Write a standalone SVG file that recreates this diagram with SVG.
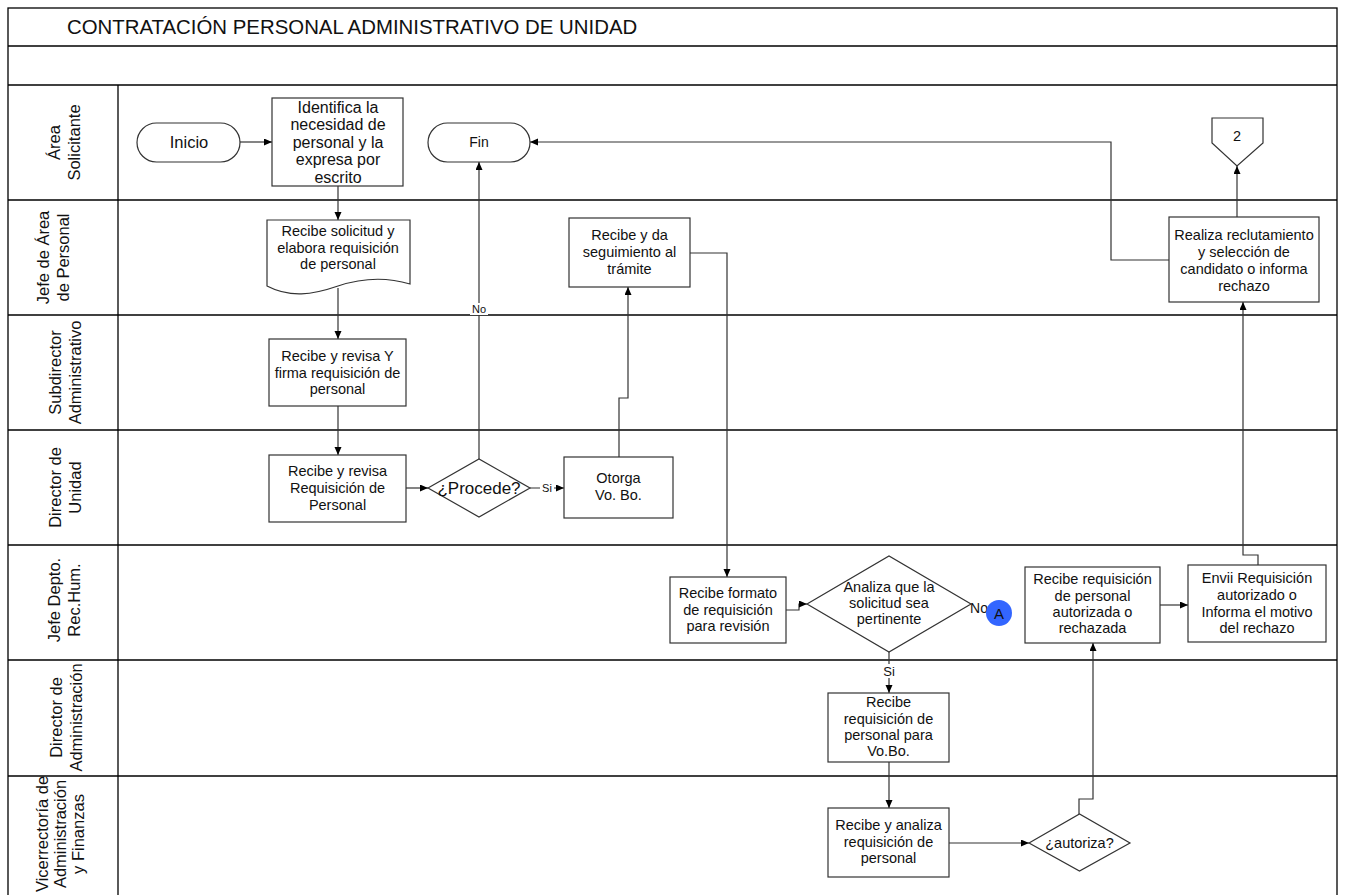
<svg xmlns="http://www.w3.org/2000/svg" width="1345" height="895" viewBox="0 0 1345 895">
<defs>
<style>
.frame{fill:none;stroke:#000;stroke-width:1.3}
.box{fill:#fff;stroke:#333;stroke-width:1.2}
.t{font-family:"Liberation Sans",Arial,sans-serif;font-size:14.5px;fill:#111;text-anchor:middle}
.lane{font-family:"Liberation Sans",Arial,sans-serif;font-size:16.5px;fill:#111;text-anchor:middle}
.lbl{font-family:"Liberation Sans",Arial,sans-serif;font-size:11px;fill:#111;text-anchor:middle}
.c{fill:none;stroke:#333;stroke-width:1.2}
.a{marker-end:url(#arr)}
</style>
<marker id="arr" markerWidth="9" markerHeight="8" refX="8" refY="3.5" orient="auto" markerUnits="userSpaceOnUse">
<path d="M0,0 L8,3.5 L0,7 z" fill="#000"/>
</marker>
</defs>
<rect width="1345" height="895" fill="#fff"/>

<g id="frame">
<rect class="frame" x="8" y="8" width="1329" height="890"/>
<line class="frame" x1="8" y1="46" x2="1337" y2="46"/>
<line class="frame" x1="8" y1="85" x2="1337" y2="85"/>
<line class="frame" x1="118" y1="85" x2="118" y2="895"/>
<line class="frame" x1="8" y1="200" x2="1337" y2="200"/>
<line class="frame" x1="8" y1="315" x2="1337" y2="315"/>
<line class="frame" x1="8" y1="430" x2="1337" y2="430"/>
<line class="frame" x1="8" y1="545" x2="1337" y2="545"/>
<line class="frame" x1="8" y1="660" x2="1337" y2="660"/>
<line class="frame" x1="8" y1="776" x2="1337" y2="776"/>
<text x="67" y="34" style="font-family:'Liberation Sans',Arial,sans-serif;font-size:20.4px;fill:#111">CONTRATACIÓN PERSONAL ADMINISTRATIVO DE UNIDAD</text>
</g>

<g id="lanes">
<text class="lane" transform="translate(64,142.5) rotate(-90)"><tspan x="0" y="-4">Área</tspan><tspan x="0" y="16">Solicitante</tspan></text>
<text class="lane" transform="translate(52.5,257.5) rotate(-90)"><tspan x="0" y="-4">Jefe de Área</tspan><tspan x="0" y="16">de Personal</tspan></text>
<text class="lane" transform="translate(65,372.5) rotate(-90)"><tspan x="0" y="-4">Subdirector</tspan><tspan x="0" y="16">Administrativo</tspan></text>
<text class="lane" transform="translate(65,487.5) rotate(-90)"><tspan x="0" y="-4">Director de</tspan><tspan x="0" y="16">Unidad</tspan></text>
<text class="lane" transform="translate(64,600) rotate(-90)"><tspan x="0" y="-4">Jefe Depto.</tspan><tspan x="0" y="16">Rec.Hum.</tspan></text>
<text class="lane" transform="translate(66,717.5) rotate(-90)"><tspan x="0" y="-4">Director de</tspan><tspan x="0" y="16">Administración</tspan></text>
<text class="lane" transform="translate(60,834) rotate(-90)"><tspan x="0" y="-12.4">Vicerrectoría de</tspan><tspan x="0" y="5.6">Administración</tspan><tspan x="0" y="23.6">y Finanzas</tspan></text>
</g>

<g id="connectors">
<path class="c a" d="M240,142 H272"/>
<path class="c a" d="M338,186 V220"/>
<path class="c a" d="M338,288 V339"/>
<path class="c a" d="M338,406 V455"/>
<path class="c a" d="M406,488 H428"/>
<path class="c a" d="M479,459 V162"/>
<path class="c a" d="M530,488 H564"/>
<path class="c a" d="M619,457 V398 H628 V287"/>
<path class="c a" d="M690,253 H727 V577"/>
<path class="c a" d="M786,610 H799 V604 H807"/>
<path class="c a" d="M889,652 V693"/>
<path class="c a" d="M889,762 V808"/>
<path class="c a" d="M949,843 H1029"/>
<path class="c a" d="M1079,814 V799 H1093 V643"/>
<path class="c a" d="M1160,605 H1188"/>
<path class="c a" d="M1258,565 V555 H1243 V302"/>
<path class="c a" d="M1237,217 V166"/>
<path class="c a" d="M1169,260 H1111 V142 H530"/>
<rect x="470" y="303" width="18" height="12" fill="#fff"/>
<text class="lbl" x="479" y="313">No</text>
<rect x="540" y="482" width="14" height="12" fill="#fff"/>
<text class="lbl" x="547" y="492">Si</text>
<rect x="882" y="664" width="15" height="14" fill="#fff"/>
<text class="t" x="889" y="676" style="font-size:13px">Si</text>
<text class="t" x="979" y="613" style="font-size:14px">No</text>
</g>

<g id="inicio">
<rect class="box" x="137" y="123" width="103" height="39" rx="19.5"/>
<text class="t" x="189" y="148" style="font-size:16.5px">Inicio</text>
</g>
<g id="identifica">
<rect class="box" x="272" y="98" width="131" height="88"/>
<text class="t" style="font-size:16px"><tspan x="338" y="112.6">Identifica la</tspan><tspan x="338" y="130.1">necesidad de</tspan><tspan x="338" y="147.6">personal y la</tspan><tspan x="338" y="165.1">expresa por</tspan><tspan x="338" y="182.6">escrito</tspan></text>
</g>
<g id="fin">
<rect class="box" x="428" y="123" width="102" height="39" rx="19.5"/>
<text class="t" x="479" y="147" style="font-size:14px">Fin</text>
</g>
<g id="conector2">
<path class="box" d="M1212,118 H1263 V143 L1237,166 L1212,143 Z"/>
<text class="t" x="1237" y="141">2</text>
</g>
<g id="recibe-solicitud">
<path class="box" d="M267,220 H410 V284 C390,278 365,277 338,286 C312,295 290,298 267,286 Z"/>
<text class="t"><tspan x="338" y="236">Recibe solicitud y</tspan><tspan x="338" y="252.5">elabora requisición</tspan><tspan x="338" y="269">de personal</tspan></text>
</g>
<g id="seguimiento">
<rect class="box" x="569" y="218" width="121" height="69"/>
<text class="t"><tspan x="629.5" y="240">Recibe y da</tspan><tspan x="629.5" y="257">seguimiento al</tspan><tspan x="629.5" y="274">trámite</tspan></text>
</g>
<g id="realiza">
<rect class="box" x="1169" y="217" width="150" height="85"/>
<text class="t"><tspan x="1244" y="240">Realiza reclutamiento</tspan><tspan x="1244" y="257">y selección de</tspan><tspan x="1244" y="274">candidato o informa</tspan><tspan x="1244" y="291">rechazo</tspan></text>
</g>
<g id="subdirector">
<rect class="box" x="269" y="339" width="137" height="67"/>
<text class="t"><tspan x="337.5" y="361">Recibe y revisa Y</tspan><tspan x="337.5" y="377.5">firma requisición de</tspan><tspan x="337.5" y="394">personal</tspan></text>
</g>
<g id="director-revisa">
<rect class="box" x="269" y="455" width="137" height="67"/>
<text class="t"><tspan x="337.5" y="476">Recibe y revisa</tspan><tspan x="337.5" y="493">Requisición de</tspan><tspan x="337.5" y="509.5">Personal</tspan></text>
</g>
<g id="procede">
<path class="box" d="M428,488 L479,459 L530,488 L479,517 Z"/>
<text class="t" x="479" y="494" style="font-size:17px">¿Procede?</text>
</g>
<g id="otorga">
<rect class="box" x="564" y="457" width="109" height="61"/>
<text class="t"><tspan x="618.5" y="483">Otorga</tspan><tspan x="618.5" y="500">Vo. Bo.</tspan></text>
</g>
<g id="recibe-formato">
<rect class="box" x="670" y="577" width="116" height="66"/>
<text class="t"><tspan x="728" y="598">Recibe formato</tspan><tspan x="728" y="615">de requisición</tspan><tspan x="728" y="631">para revisión</tspan></text>
</g>
<g id="analiza">
<path class="box" d="M807,604 L889,556 L971,604 L889,652 Z"/>
<text class="t"><tspan x="889" y="592">Analiza que la</tspan><tspan x="889" y="608">solicitud sea</tspan><tspan x="889" y="624">pertinente</tspan></text>
</g>
<g id="conectorA">
<circle cx="999" cy="613" r="13" fill="#3366ff"/>
<text class="t" x="999" y="619" style="font-size:15px">A</text>
</g>
<g id="recibe-requisicion">
<rect class="box" x="1025" y="567" width="135" height="76"/>
<text class="t"><tspan x="1092.5" y="584">Recibe requisición</tspan><tspan x="1092.5" y="601">de personal</tspan><tspan x="1092.5" y="617">autorizada o</tspan><tspan x="1092.5" y="633">rechazada</tspan></text>
</g>
<g id="envii">
<rect class="box" x="1188" y="565" width="138" height="77"/>
<text class="t"><tspan x="1257" y="583">Envii Requisición</tspan><tspan x="1257" y="600">autorizado o</tspan><tspan x="1257" y="617">Informa el motivo</tspan><tspan x="1257" y="633">del rechazo</tspan></text>
</g>
<g id="recibe-vobo">
<rect class="box" x="828" y="693" width="121" height="69"/>
<text class="t"><tspan x="888.5" y="707">Recibe</tspan><tspan x="888.5" y="724">requisición de</tspan><tspan x="888.5" y="740">personal para</tspan><tspan x="888.5" y="756">Vo.Bo.</tspan></text>
</g>
<g id="recibe-analiza">
<rect class="box" x="828" y="808" width="121" height="69"/>
<text class="t"><tspan x="888.5" y="830">Recibe y analiza</tspan><tspan x="888.5" y="847">requisición de</tspan><tspan x="888.5" y="863">personal</tspan></text>
</g>
<g id="autoriza">
<path class="box" d="M1029,843 L1079.5,814 L1130,843 L1079.5,871 Z"/>
<text class="t" x="1079.5" y="848">¿autoriza?</text>
</g>
</svg>
